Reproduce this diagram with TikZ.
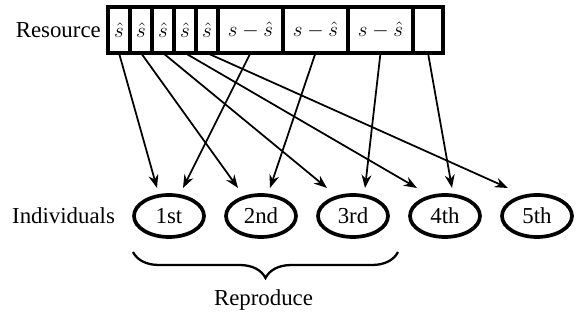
\documentclass[tikz,border=0pt]{standalone}
\usepackage{fontspec}
\setmainfont{Liberation Serif}
\usetikzlibrary{
    arrows.meta,
    decorations.pathreplacing,
    positioning,
    shapes.geometric
}
\tikzset{
    every picture/.style = {
        > = Stealth
    },
    cell/.style = {
        draw,
        line width = 1.9pt,
        minimum height = 0.92cm,
        inner sep = 0pt,
        outer sep = 0pt
    },
    share/.style = {cell, minimum width = 0.44cm},
    rest/.style = {cell, minimum width = 1.3cm},
    indiv/.style = {
        draw,
        ellipse,
        line width = 2.1pt,
        minimum width = 1.4cm,
        minimum height = 0.84cm,
        inner sep = 0pt
    },
    give/.style = {->, line width = 1pt}
}

\begin{document}
\begin{tikzpicture}[font = \fontsize{13}{15}\selectfont]
    \useasboundingbox (0, 0) rectangle (11.54, 6.44);

    % the resource bar
    \node[share] (c1) at (2.38, 5.84) {$\hat{s}$};
    \foreach \i [count = \j from 1] in {2, ..., 5}
        \node[share, right = 0pt of c\j] (c\i) {$\hat{s}$};
    \node[rest, right = 0pt of c5] (c6) {$s - \hat{s}$};
    \node[rest, right = 0pt of c6] (c7) {$s - \hat{s}$};
    \node[rest, right = 0pt of c7] (c8) {$s - \hat{s}$};
    \node[cell, minimum width = 0.6cm, right = 0pt of c8] (c9) {};
    \node[left = 0.02cm of c1] (resource) {Resource};

    % individuals
    \foreach \name [count = \k] in {1st, 2nd, 3rd, 4th, 5th}
        \node[indiv] (e\k) at (1.54 + 1.84*\k, 2.12) {\name};
    \node[left = 0.22cm of e1] (individuals) {Individuals};

    % where the arrows stop
    \coordinate (h1) at (3.14, 2.68);
    \coordinate (h2) at (3.66, 2.68);
    \coordinate (h3) at (4.76, 2.68);
    \coordinate (h4) at (5.40, 2.68);
    \coordinate (h5) at (6.54, 2.68);
    \coordinate (h6) at (7.30, 2.68);
    \coordinate (h7) at (8.34, 2.68);
    \coordinate (h8) at (9.04, 2.68);
    \coordinate (h9) at (10.16, 2.68);

    \foreach \from/\to in {c1/h1, c2/h3, c3/h5, c4/h7, c5/h9,
                           c6/h2, c7/h4, c8/h6, c9/h8}
        \draw[give] (\from.south) -- (\to);

    % brace under the first three
    \coordinate (b1) at (2.66, 1.40);
    \coordinate (b2) at (7.96, 1.40);
    \draw[decorate, decoration = {brace, mirror, amplitude = 0.52cm}, line width = 1.3pt] (b1) -- (b2);
    \node (reproduce) at (5.27, 0.44) {Reproduce};
\end{tikzpicture}
\end{document}
